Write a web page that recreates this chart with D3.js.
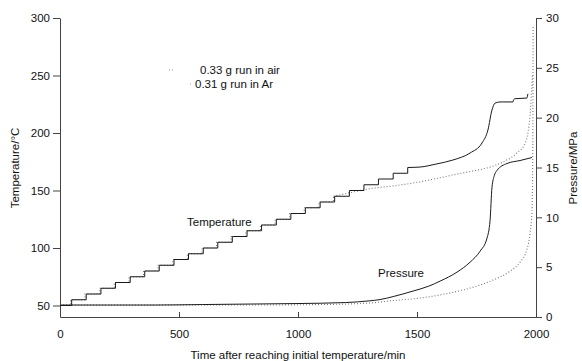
<!DOCTYPE html>
<html>
<head>
<meta charset="utf-8">
<script src="https://cdn.jsdelivr.net/npm/d3@7"></script>
<style>
  html, body { margin: 0; padding: 0; background: #fff; }
  svg { display: block; font-family: "Liberation Sans", Arial, Helvetica, sans-serif; }
  .axis text { font-size: 11.5px; fill: #111; }
  .axis path, .axis line { stroke: #444; stroke-width: 1; }
</style>
</head>
<body>
<svg id="chart" width="582" height="361"></svg>
<script>
// Stepwise heating, air run: time (min) where each 5 °C step starts, and the level reached
const airStepTime = [0, 49, 110, 172, 233, 295, 356, 417, 479, 540, 602, 663, 724, 786, 847, 909, 970, 1031, 1093, 1154, 1216, 1277, 1338, 1400, 1461];
const airStepTemp = [50, 55, 60, 65, 70, 75, 80, 85, 90, 95, 100, 105, 110, 115, 120, 125, 130, 135, 140, 145, 150, 155, 160, 165, 170];
// Air run after the last step: self-heating
const airTailTime = [1461, 1513, 1580, 1651, 1723, 1773, 1798, 1815, 1828, 1849, 1903, 1906, 1912, 1962, 1964, 1966];
const airTailTemp = [170, 170.4, 173, 176.5, 182.6, 191.3, 202.6, 220, 226, 227, 227, 229, 229.8, 230.4, 232, 234];

// Ar run: steps up to 145 °C, then a slow drift and the final runaway
const arStepTime = [0, 45, 105, 167, 228, 290, 351, 412, 474, 535, 597, 658, 719, 781, 842, 904, 965, 1026, 1088, 1149];
const arStepTemp = [50, 55, 60, 65, 70, 75, 80, 85, 90, 95, 100, 105, 110, 115, 120, 125, 130, 135, 140, 145];
const arTailTime = [1149, 1216, 1315, 1400, 1483, 1560, 1651, 1723, 1794, 1861, 1920, 1954, 1966, 1975, 1981, 1985];
const arTailTemp = [145, 148, 152, 154, 156.5, 159.5, 163.5, 166.5, 169.6, 174.8, 182.6, 191, 200, 215, 235, 250];

// Pressure (MPa)
const airPresTime = [0, 200, 400, 600, 800, 1000, 1200, 1300, 1345, 1400, 1483, 1550, 1597, 1668, 1723, 1765, 1794, 1807, 1815, 1825, 1836, 1878, 1933, 1983];
const airPres = [1.2, 1.2, 1.2, 1.25, 1.3, 1.35, 1.45, 1.62, 1.75, 2.05, 2.6, 3.1, 3.6, 4.5, 5.5, 6.6, 7.9, 9.7, 13.0, 14.2, 14.7, 15.4, 15.7, 16.0];
const arPresTime = [0, 400, 800, 1100, 1300, 1400, 1513, 1626, 1723, 1819, 1891, 1933, 1962, 1975, 1983, 1986, 1988];
const arPres = [1.2, 1.2, 1.2, 1.25, 1.4, 1.65, 1.9, 2.35, 2.9, 3.7, 4.6, 5.5, 6.8, 8.4, 10.6, 15, 29.2];

// Axis ticks and labels
const timeTicks = [0, 500, 1000, 1500, 2000];
const tempTicks = [50, 100, 150, 200, 250, 300];
const presTicks = [0, 5, 10, 15, 20, 25, 30];
const legendLabels = ["0.33 g run in air", "0.31 g run in Ar"];

const svg = d3.select("#chart");
const x = d3.scaleLinear([0, 2000], [60, 536]);
const yT = d3.scaleLinear([40, 300], [317, 18]);
const yP = d3.scaleLinear([0, 30], [317, 18]);

const zip = (a, b) => a.map((v, i) => [v, b[i]]);

const solid = { stroke: "#1a1a1a", width: 1, dash: null };
const dotted = { stroke: "#777", width: 1.1, dash: "1,2" };

function draw(points, yScale, curve, style) {
  svg.append("path")
    .datum(points)
    .attr("fill", "none")
    .attr("stroke", style.stroke)
    .attr("stroke-width", style.width)
    .attr("stroke-dasharray", style.dash)
    .attr("d", d3.line().x(d => x(d[0])).y(d => yScale(d[1])).curve(curve));
}

// Axes
svg.append("g").attr("class", "axis")
  .attr("transform", "translate(60,0)")
  .call(d3.axisLeft(yT).tickValues(tempTicks).tickSizeInner(7).tickSizeOuter(0).tickPadding(3));
svg.append("g").attr("class", "axis")
  .attr("transform", "translate(536,0)")
  .call(d3.axisRight(yP).tickValues(presTicks).tickSizeInner(6).tickSizeOuter(0).tickPadding(4));
const xAxis = svg.append("g").attr("class", "axis")
  .attr("transform", "translate(0,317)")
  .call(d3.axisBottom(x).tickValues(timeTicks).tickFormat(d3.format("d"))
    .tickSizeInner(-5).tickSizeOuter(0).tickPadding(13));
xAxis.select(".domain").attr("stroke", "#888");

// Ar run (dotted)
draw(zip(arStepTime, arStepTemp), yT, d3.curveStepAfter, dotted);
draw(zip(arTailTime, arTailTemp), yT, d3.curveMonotoneX, dotted);
draw(zip(arPresTime, arPres), yP, d3.curveMonotoneX, dotted);

// Air run (solid)
draw(zip(airStepTime, airStepTemp), yT, d3.curveStepAfter, solid);
draw(zip(airTailTime, airTailTemp), yT, d3.curveMonotoneX, solid);
draw(zip(airPresTime, airPres), yP, d3.curveMonotoneX, solid);

// Axis titles
const titleSize = 11.5;
svg.append("text")
  .attr("transform", "translate(19,168) rotate(-90)")
  .attr("text-anchor", "middle").attr("font-size", titleSize).attr("fill", "#111")
  .text("Temperature/°C");
svg.append("text")
  .attr("transform", "translate(577,168) rotate(-90)")
  .attr("text-anchor", "middle").attr("font-size", titleSize).attr("fill", "#111")
  .text("Pressure/MPa");
svg.append("text")
  .attr("x", 298).attr("y", 359)
  .attr("text-anchor", "middle").attr("font-size", titleSize).attr("fill", "#111")
  .text("Time after reaching initial temperature/min");

// Curve annotations
svg.append("text").attr("x", 187).attr("y", 226)
  .attr("font-size", titleSize).attr("fill", "#111").text("Temperature");
svg.append("text").attr("x", 378).attr("y", 277)
  .attr("font-size", titleSize).attr("fill", "#111").text("Pressure");

// Legend
const legendRows = [
  { label: legendLabels[0], x1: 169, x2: 175, tx: 200, y: 70 },
  { label: legendLabels[1], x1: 190, x2: 193, tx: 195, y: 84 }
];
legendRows.forEach(r => {
  svg.append("line")
    .attr("x1", r.x1).attr("x2", r.x2).attr("y1", r.y).attr("y2", r.y)
    .attr("stroke", "#999").attr("stroke-width", 1).attr("stroke-dasharray", "1,2");
  svg.append("text").attr("x", r.tx).attr("y", r.y + 4)
    .attr("font-size", titleSize).attr("fill", "#111").text(r.label);
});
</script>
</body>
</html>
